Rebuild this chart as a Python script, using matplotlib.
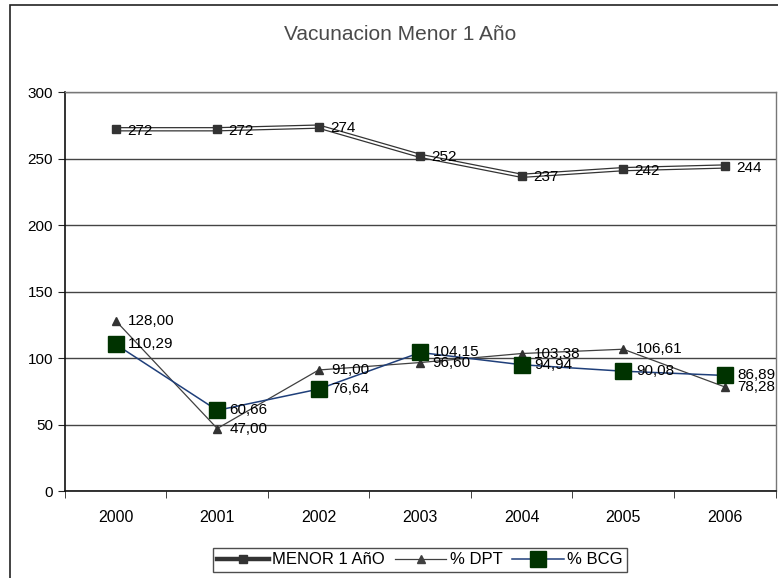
import numpy as np
import matplotlib.pyplot as plt
from matplotlib.lines import Line2D
from matplotlib.patches import Rectangle

plt.rcParams['font.family'] = ['Liberation Sans', 'DejaVu Sans']

years = ['2000', '2001', '2002', '2003', '2004', '2005', '2006']
menor = [272, 272, 274, 252, 237, 242, 244]
dpt = [128.00, 47.00, 91.00, 96.60, 103.38, 106.61, 78.28]
bcg = [110.29, 60.66, 76.64, 104.15, 94.94, 90.08, 86.89]

fig = plt.figure(figsize=(7.78, 5.78), dpi=100)
ax = fig.add_axes([0.0835, 0.1505, 0.9133, 0.6903])

# outer chart frame
fig.patches.append(Rectangle((10 / 778, -0.1), 1.2, 1 - 5 / 578 + 0.1,
                             transform=fig.transFigure, fill=False,
                             edgecolor='#222222', lw=1.2))

x = np.arange(len(years))

# MENOR 1 Año: double line look
ax.plot(x, menor, color='#333333', lw=3.2, zorder=3)
ax.plot(x, menor, color='white', lw=1.4, zorder=4)
ax.plot(x, menor, ls='none', marker='s', ms=5.5, color='#333333', zorder=5)

ax.plot(x, dpt, color='#404040', lw=0.9, marker='^', ms=6,
        markerfacecolor='#333333', markeredgecolor='#333333', zorder=3)
ax.plot(x, bcg, color='#1F3F7A', lw=1.1, marker='s', ms=12,
        markerfacecolor='#003300', markeredgecolor='#003300', zorder=4)

def fmt(v):
    return ('%.2f' % v).replace('.', ',')

for xi, v in zip(x, menor):
    ax.annotate(str(v), (xi, v), xytext=(8, -1), textcoords='offset points',
                va='center', ha='left', fontsize=11, zorder=6, annotation_clip=False)
for xi, v in zip(x, dpt):
    ax.annotate(fmt(v), (xi, v), xytext=(9, 0), textcoords='offset points',
                va='center', ha='left', fontsize=11, zorder=6, annotation_clip=False)
for xi, v in zip(x, bcg):
    ax.annotate(fmt(v), (xi, v), xytext=(9, 0), textcoords='offset points',
                va='center', ha='left', fontsize=11, zorder=6, annotation_clip=False)

ax.set_xlim(-0.5, len(years) - 0.5)
ax.set_ylim(0, 300)
ax.set_yticks(range(0, 301, 50))
ax.set_xticks(x)
ax.set_xticklabels(years)
ax.set_xticks(np.arange(-0.5, len(years), 1), minor=True)
ax.tick_params(axis='x', which='major', length=0, pad=14, labelsize=11.5)
ax.tick_params(axis='x', which='minor', length=5, direction='out', color='#222222')
ax.tick_params(axis='y', length=5, direction='out', labelsize=11, color='#222222')
ax.yaxis.grid(True, color='#444444', lw=1)
ax.set_axisbelow(True)
for s in ['left', 'bottom']:
    ax.spines[s].set_color('#111111')
    ax.spines[s].set_linewidth(1.2)
for s in ['top', 'right']:
    ax.spines[s].set_color('#777777')
    ax.spines[s].set_linewidth(1.0)

fig.text(400 / 778, 1 - 35 / 578, 'Vacunacion Menor 1 Año', ha='center', va='center',
         fontsize=15, color='#4a4a4a')

handles = [
    Line2D([], [], color='#333333', lw=3.2, marker='s', ms=5.5),
    Line2D([], [], color='#404040', lw=0.9, marker='^', ms=6),
    Line2D([], [], color='#1F3F7A', lw=1.1, marker='s', ms=12,
           markerfacecolor='#003300', markeredgecolor='#003300'),
]
leg = fig.legend(handles, ['MENOR 1 AñO', '% DPT', '% BCG'], ncol=3,
                 loc='center', bbox_to_anchor=(420 / 778, 1 - 560 / 578),
                 fontsize=12, frameon=True, fancybox=False, edgecolor='#222222',
                 handlelength=3.1, handletextpad=0.2, columnspacing=0.6,
                 borderpad=0.25, borderaxespad=0)
leg.get_frame().set_linewidth(1.0)

fig.savefig('out.png', dpi=100)
